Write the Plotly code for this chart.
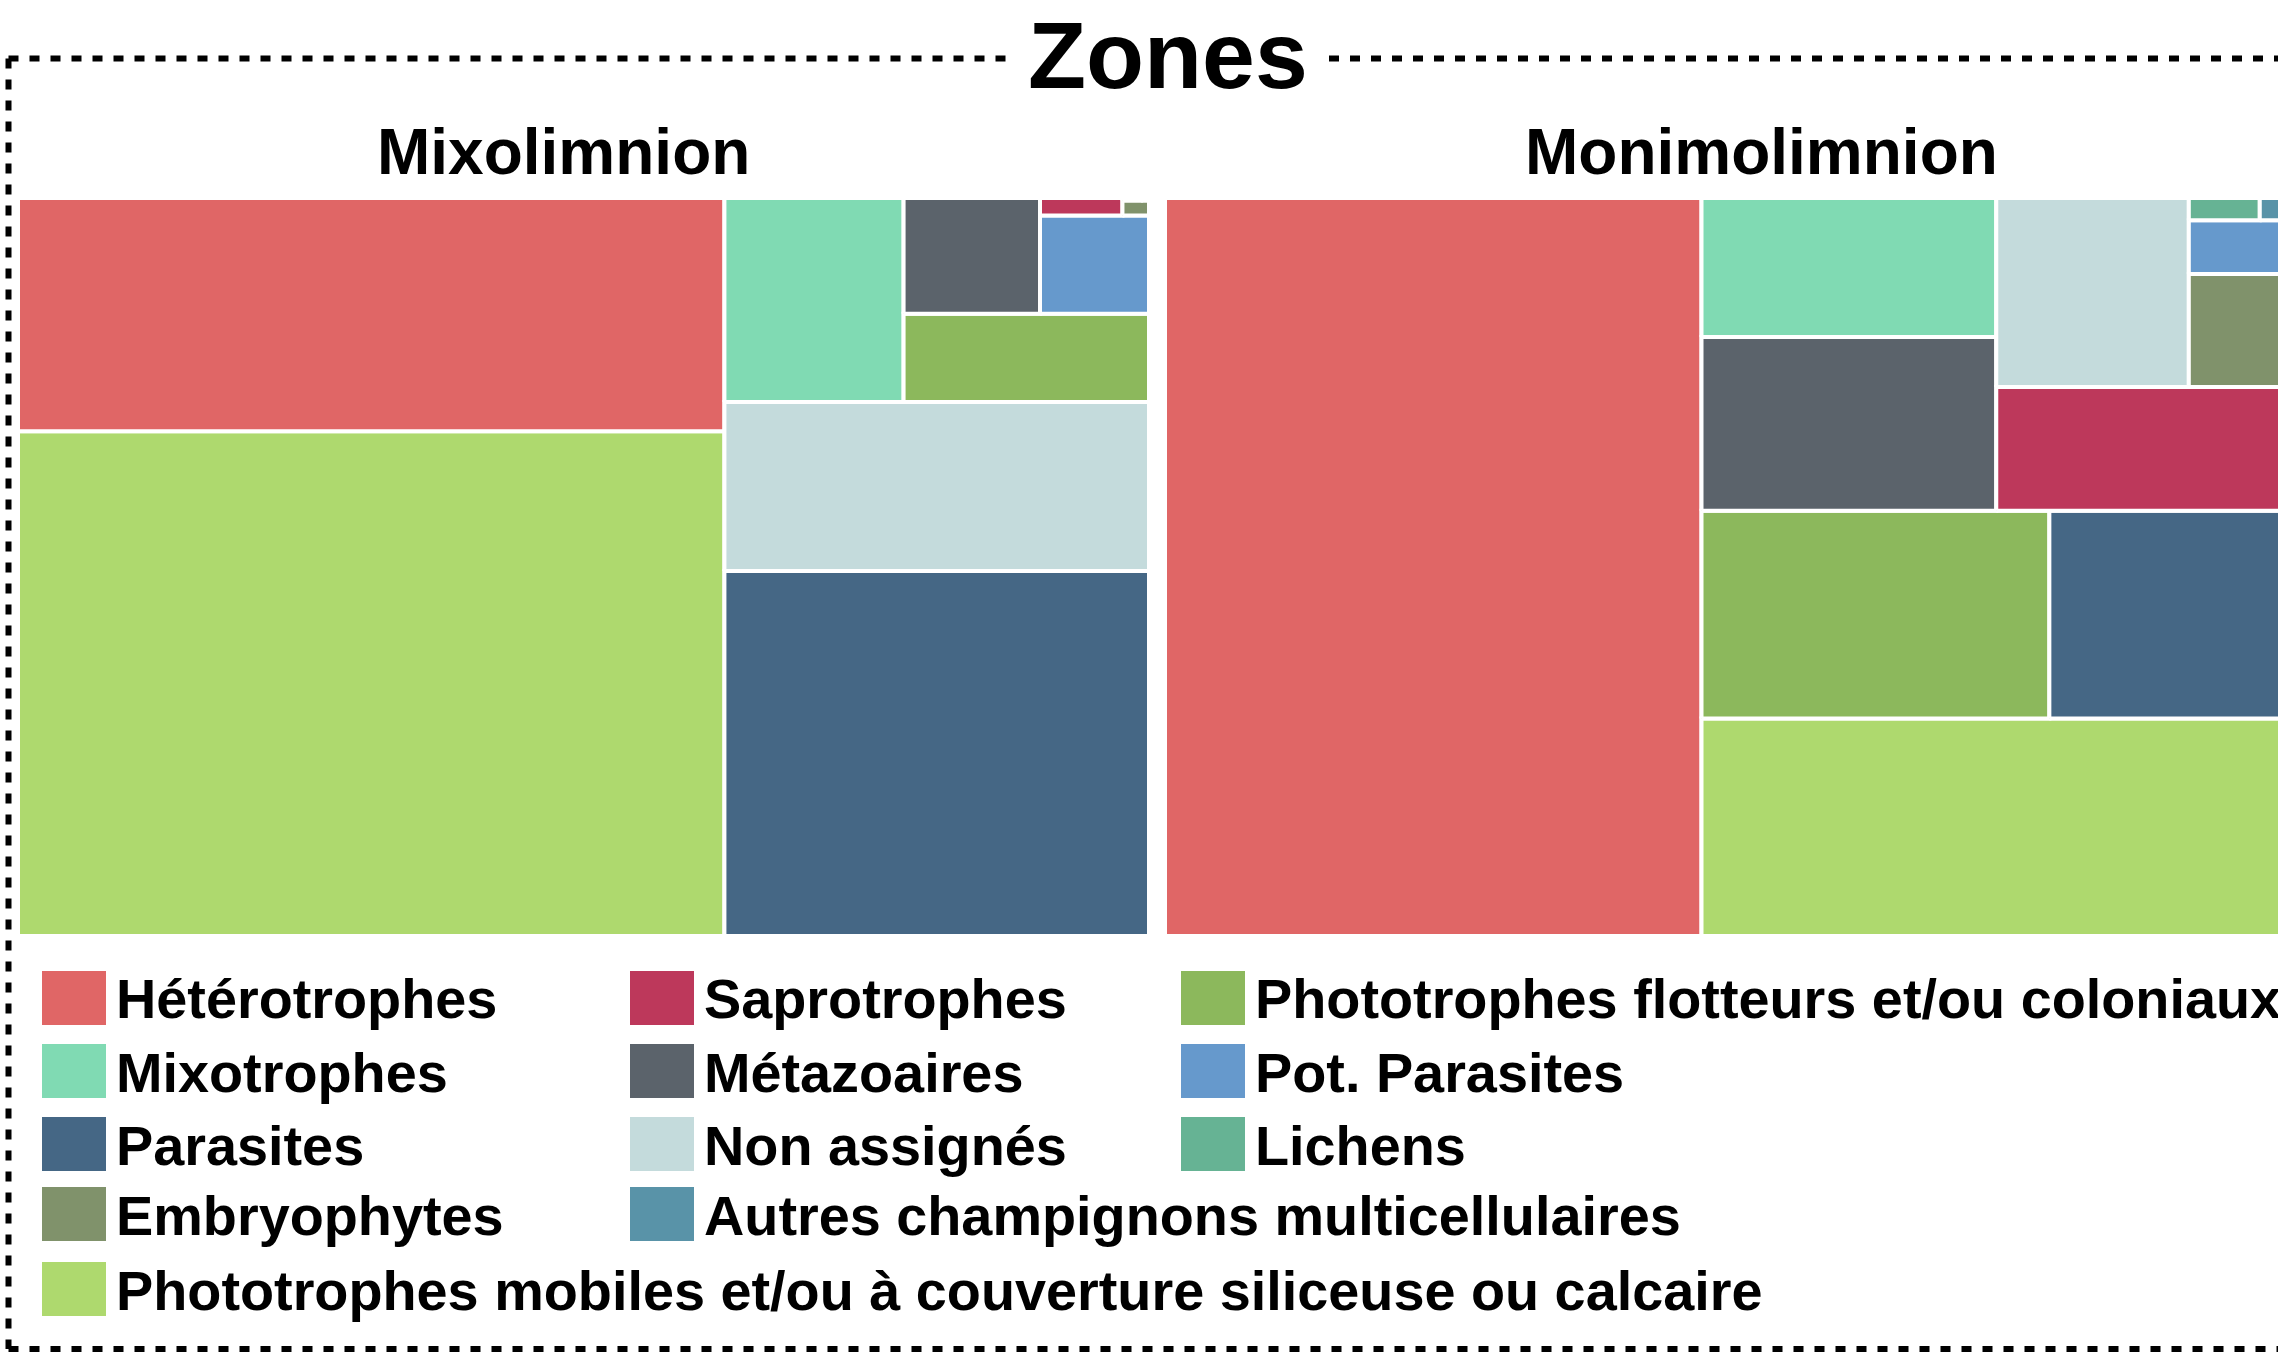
import plotly.graph_objects as go

# ---------------- data ----------------
categories = [
    "Hétérotrophes", "Saprotrophes", "Phototrophes flotteurs et/ou coloniaux",
    "Mixotrophes", "Métazoaires", "Pot. Parasites",
    "Parasites", "Non assignés", "Lichens",
    "Embryophytes", "Autres champignons multicellulaires",
    "Phototrophes mobiles et/ou à couverture siliceuse ou calcaire",
]
colors = [
    "#E06666", "#BD385B", "#8CB85C",
    "#80DAB3", "#5B636B", "#6699CC",
    "#456785", "#C4DBDC", "#66B394",
    "#80926B", "#5993A8",
    "#AED96E",
]
zones = ["Mixolimnion", "Monimolimnion"]
# relative abundance (%) per category, same order as `categories`
mixolimnion = [19.74, 0.174, 2.60, 4.38, 1.89, 1.28, 18.57, 8.59, 0.0056, 0.048, 0.0024, 42.72]
monimolimnion = [47.43, 4.44, 8.66, 4.91, 6.13, 0.69, 6.14, 4.36, 0.19, 1.45, 0.097, 15.49]
zone_values = [mixolimnion, monimolimnion]
title_text = "Zones"

# legend grid (row, column) for each category
legend_row = [0, 0, 0, 1, 1, 1, 2, 2, 2, 3, 3, 4]
legend_col = [0, 1, 2, 0, 1, 2, 0, 1, 2, 0, 1, 0]

# ---------------- layout constants (pixels) ----------------
W, H = 2278, 1366
FONT = "Liberation Sans, Arial, Helvetica, sans-serif"
tm_width = 1131
tm_left = [18, 1165]
tm_top, tm_bottom = 198, 936
sub_x = [563, 1761]
sub_y = 152.5
col_x = [42, 630, 1181]
row_top = [971, 1044, 1117, 1187, 1262]
key_w, key_h = 64, 54


def X(px):
    return px / W


def Y(py):
    return 1 - py / H


# ---------------- squarify (classic Bruls et al.) ----------------
def layoutrow(sizes, x, y, dx, dy):
    width = sum(sizes) / dy
    rects = []
    for s in sizes:
        rects.append((x, y, width, s / width))
        y += s / width
    return rects


def layoutcol(sizes, x, y, dx, dy):
    height = sum(sizes) / dx
    rects = []
    for s in sizes:
        rects.append((x, y, s / height, height))
        x += s / height
    return rects


def layout(sizes, x, y, dx, dy):
    return layoutrow(sizes, x, y, dx, dy) if dx >= dy else layoutcol(sizes, x, y, dx, dy)


def leftover(sizes, x, y, dx, dy):
    if dx >= dy:
        width = sum(sizes) / dy
        return x + width, y, dx - width, dy
    height = sum(sizes) / dx
    return x, y + height, dx, dy - height


def worst_ratio(sizes, x, y, dx, dy):
    return max(max(r[2] / r[3], r[3] / r[2]) for r in layout(sizes, x, y, dx, dy))


def squarify(sizes, x, y, dx, dy):
    if not sizes:
        return []
    if len(sizes) == 1:
        return layout(sizes, x, y, dx, dy)
    i = 1
    while i < len(sizes) and worst_ratio(sizes[:i], x, y, dx, dy) >= worst_ratio(sizes[:i + 1], x, y, dx, dy):
        i += 1
    cur, rest = sizes[:i], sizes[i:]
    lx, ly, ldx, ldy = leftover(cur, x, y, dx, dy)
    return layout(cur, x, y, dx, dy) + squarify(rest, lx, ly, ldx, ldy)


fig = go.Figure()

for zi, vals in enumerate(zone_values):
    order = sorted(range(len(vals)), key=lambda k: -vals[k])
    total = sum(vals)
    sizes = [vals[k] * 100 * 100 / total for k in order]
    rects = squarify(sizes, 0, 0, 100, 100)
    xa = "x" if zi == 0 else "x2"
    ya = "y" if zi == 0 else "y2"
    for k, (rx, ry, rdx, rdy) in zip(order, rects):
        fig.add_trace(go.Scatter(
            x=[rx, rx + rdx, rx + rdx, rx, rx],
            y=[ry, ry, ry + rdy, ry + rdy, ry],
            mode="lines", fill="toself",
            fillcolor=colors[k],
            line=dict(color="white", width=4),
            name=categories[k],
            text=f"{zones[zi]}<br>{categories[k]}: {vals[k]:.2f} %",
            hoveron="fills", hoverinfo="text",
            showlegend=False,
            xaxis=xa, yaxis=ya,
        ))

ydom = [Y(tm_bottom), Y(tm_top)]
x1_dom = [X(tm_left[0]), X(tm_left[0] + tm_width)]
x2_dom = [X(tm_left[1]), 1.0]
x2_max = 100 * (W - tm_left[1]) / tm_width

axis_common = dict(visible=False, fixedrange=True, showgrid=False, zeroline=False)
fig.update_layout(
    xaxis=dict(domain=x1_dom, range=[0, 100], anchor="y", **axis_common),
    yaxis=dict(domain=ydom, range=[0, 100], anchor="x", **axis_common),
    xaxis2=dict(domain=x2_dom, range=[0, x2_max], anchor="y2", **axis_common),
    yaxis2=dict(domain=ydom, range=[0, 100], anchor="x2", **axis_common),
)

annotations = []
shapes = []

# main title
annotations.append(dict(
    text=title_text, x=X(1168), y=Y(55), xref="paper", yref="paper",
    xanchor="center", yanchor="middle", showarrow=False,
    font=dict(family=FONT, size=95, color="black", weight="bold"),
))
# zone subtitles
for zi, name in enumerate(zones):
    annotations.append(dict(
        text=name, x=X(sub_x[zi]), y=Y(sub_y), xref="paper", yref="paper",
        xanchor="center", yanchor="middle", showarrow=False,
        font=dict(family=FONT, size=64, color="black", weight="bold"),
    ))

# legend (drawn manually: big keys)
for k, cat in enumerate(categories):
    kx = col_x[legend_col[k]]
    ky = row_top[legend_row[k]]
    shapes.append(dict(
        type="rect", xref="paper", yref="paper",
        x0=X(kx), x1=X(kx + key_w), y0=Y(ky + key_h), y1=Y(ky),
        fillcolor=colors[k], line=dict(width=0),
    ))
    annotations.append(dict(
        text=cat, x=X(kx + key_w + 8), y=Y(ky + key_h / 2 + 1),
        xref="paper", yref="paper", xanchor="left", yanchor="middle",
        showarrow=False,
        font=dict(family=FONT, size=55.8, color="black", weight="bold"),
    ))

# dashed frame (fieldset-like) broken by the title
dash = dict(color="black", width=6, dash="10px,11px")
frame_top, frame_bottom, frame_left = 58.5, 1349, 8.5
for (x0, y0, x1, y1) in [
    (frame_left, frame_top, 1014, frame_top),
    (1329, frame_top, 2400, frame_top),
    (frame_left, frame_top, frame_left, frame_bottom),
    (frame_left, frame_bottom, 2400, frame_bottom),
]:
    shapes.append(dict(type="line", xref="paper", yref="paper",
                       x0=X(x0), y0=Y(y0), x1=X(x1), y1=Y(y1), line=dash))

fig.update_layout(
    width=W, height=H,
    margin=dict(l=0, r=0, t=0, b=0),
    paper_bgcolor="white", plot_bgcolor="white",
    showlegend=False,
    annotations=annotations,
    shapes=shapes,
    font=dict(family=FONT),
)

fig.write_html(
    "out.html",
    config={"displayModeBar": False},
    post_script="document.body.style.margin='0';document.body.style.overflow='hidden';",
)
